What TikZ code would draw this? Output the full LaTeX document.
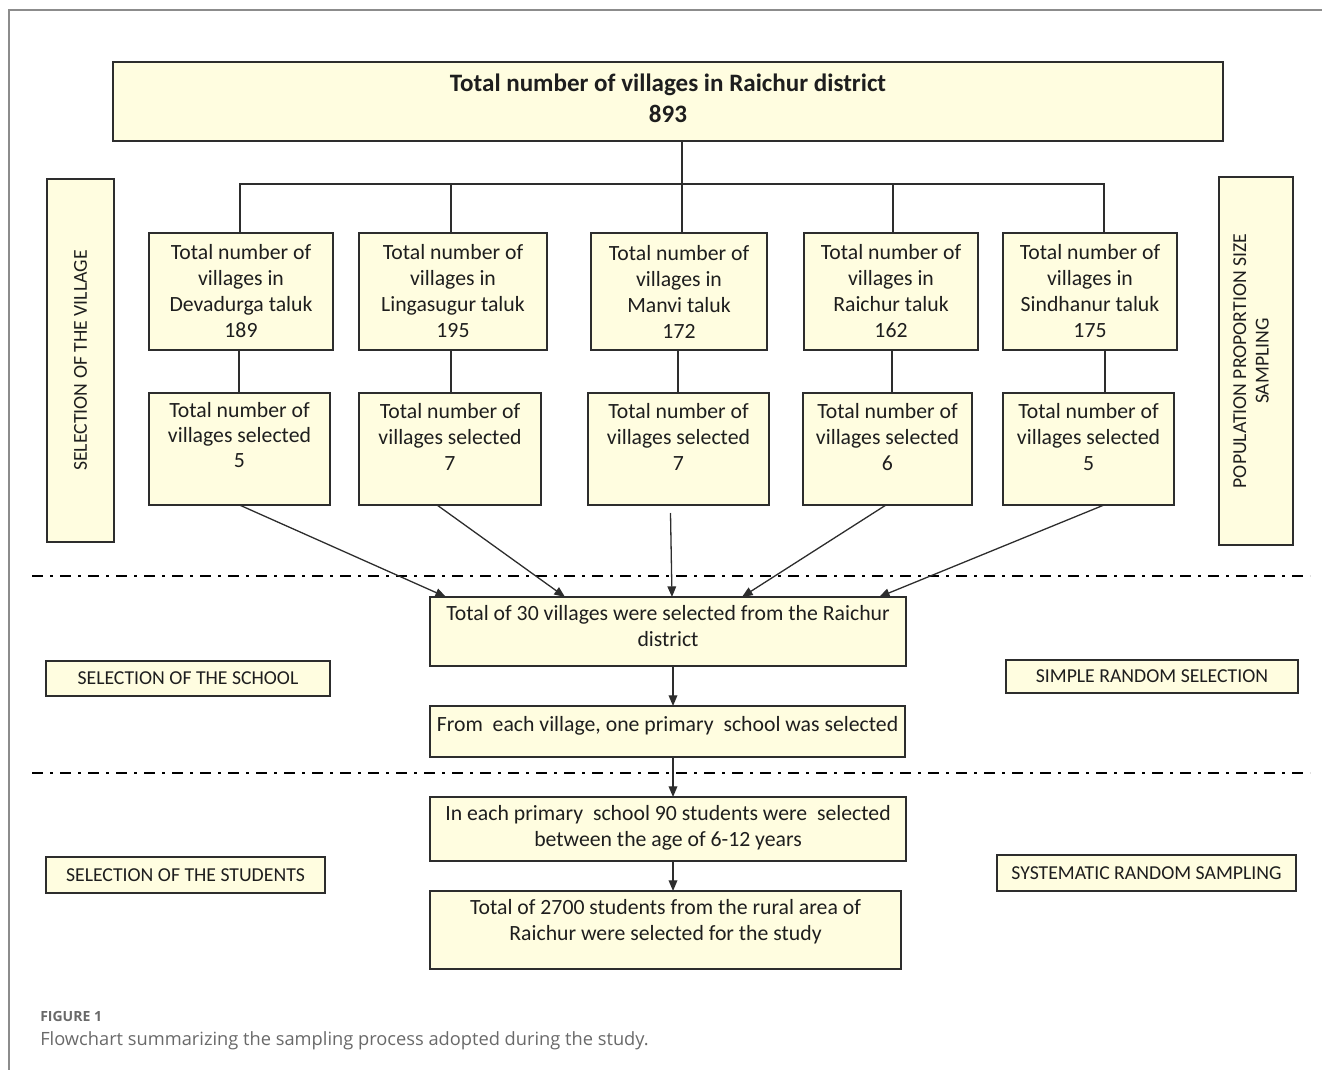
\documentclass[tikz,border=0pt]{standalone}
\usepackage{fontspec}
\setmainfont{Carlito}
\newfontfamily\capfont{Open Sans}
\usetikzlibrary{arrows.meta}
\def\px{0.75pt}
\definecolor{boxfill}{RGB}{255,253,224}
\definecolor{edgec}{RGB}{45,45,45}
\definecolor{framec}{RGB}{140,140,140}
\definecolor{capc}{RGB}{105,105,105}
\definecolor{txtc}{RGB}{30,30,30}
\begin{document}
\begin{tikzpicture}[x=0.75pt,y=-0.75pt,
  box/.style={draw=edgec, fill=boxfill, line width=1.6*\px, inner sep=0pt, outer sep=0pt},
  tx/.style={font=\fontsize{16.3}{19.5}\selectfont, align=center, inner sep=0pt, text=txtc},
  tb/.style={font=\fontsize{16.3}{18.5}\selectfont, align=center, inner sep=0pt, text=txtc},
  ttop/.style={font=\bfseries\fontsize{18.8}{23.2}\selectfont, align=center, inner sep=0pt, text=txtc},
  side/.style={font=\fontsize{14.8}{17}\selectfont, align=center, inner sep=0pt, text=txtc},
  conn/.style={draw=edgec, line width=1.3*\px},
  arr/.style={conn, -{Triangle[length=8pt,width=6.5pt]}},
  dd/.style={draw=black, line width=2.2*\px, dash pattern=on 11*\px off 7*\px on 3*\px off 7*\px}
]
\useasboundingbox (0,0) rectangle (1322,1070);
% frame
\draw[framec, line width=2*\px] (9,1070) -- (9,10) -- (1322,10);

% top box
\node[box, minimum width=1110*\px, minimum height=79*\px] (top) at (668,101.5) {};
\node[ttop] (topt) at ([yshift=3*\px]top.center) {Total number of villages in Raichur district\\893};

% row 1
\node[box, minimum width=184*\px, minimum height=117*\px] (r1a) at (241,291.5) {};
\node[box, minimum width=188*\px, minimum height=117*\px] (r1b) at (453,291.5) {};
\node[box, minimum width=176*\px, minimum height=117*\px] (r1c) at (679,291.5) {};
\node[box, minimum width=174*\px, minimum height=117*\px] (r1d) at (891,291.5) {};
\node[box, minimum width=174*\px, minimum height=117*\px] (r1e) at (1090,291.5) {};
\node[tx] (r1at) at (r1a.center) {Total number of\\villages in\\Devadurga taluk\\189};
\node[tx] (r1bt) at (r1b.center) {Total number of\\villages in\\Lingasugur taluk\\195};
\node[tx] (r1ct) at (r1c.center) {Total number of\\villages in\\Manvi taluk\\172};
\node[tx] (r1dt) at (r1d.center) {Total number of\\villages in\\Raichur taluk\\162};
\node[tx] (r1et) at (r1e.center) {Total number of\\villages in\\Sindhanur taluk\\175};

% row 2
\node[box, minimum width=181*\px, minimum height=112*\px] (r2a) at (239.5,449) {};
\node[box, minimum width=182*\px, minimum height=112*\px] (r2b) at (450,449) {};
\node[box, minimum width=181*\px, minimum height=112*\px] (r2c) at (678.5,449) {};
\node[box, minimum width=169*\px, minimum height=112*\px] (r2d) at (887.5,449) {};
\node[box, minimum width=171*\px, minimum height=112*\px] (r2e) at (1088.5,449) {};
\node[tb] (r2at) at ([yshift=14*\px]r2a.center) {Total number of\\villages selected\\5};
\node[tx] (r2bt) at ([yshift=12*\px]r2b.center) {Total number of\\villages selected\\7};
\node[tx] (r2ct) at ([yshift=12*\px]r2c.center) {Total number of\\villages selected\\7};
\node[tx] (r2dt) at ([yshift=12*\px]r2d.center) {Total number of\\villages selected\\6};
\node[tx] (r2et) at ([yshift=12*\px]r2e.center) {Total number of\\villages selected\\5};

% side boxes
\node[box, minimum width=67*\px, minimum height=363*\px] (sv) at (80.5,360.5) {};
\node[side, rotate=90] (svt) at (sv.center) {SELECTION OF THE VILLAGE};
\node[box, minimum width=74*\px, minimum height=368*\px] (sp) at (1256,361) {};
\node[side, rotate=90] (spt) at ([xshift=-5*\px]sp.center) {POPULATION PROPORTION SIZE\\SAMPLING};
\node[box, minimum width=284*\px, minimum height=35*\px] (ssch) at (188,678.5) {};
\node[side] (sscht) at (ssch.center) {SELECTION OF THE SCHOOL};
\node[box, minimum width=292*\px, minimum height=33*\px] (srs) at (1152,676.5) {};
\node[side] (srst) at (srs.center) {SIMPLE RANDOM SELECTION};
\node[box, minimum width=279*\px, minimum height=36*\px] (sstu) at (185.5,875) {};
\node[side] (sstut) at (sstu.center) {SELECTION OF THE STUDENTS};
\node[box, minimum width=299*\px, minimum height=36*\px] (ssys) at (1146.5,873) {};
\node[side] (ssyst) at (ssys.center) {SYSTEMATIC RANDOM SAMPLING};

% central column
\node[box, minimum width=476*\px, minimum height=69*\px] (c30) at (668,631.5) {};
\node[tx] (c30t) at ([yshift=5*\px]c30.center) {Total of 30 villages were selected from the Raichur\\district};
\node[box, minimum width=475*\px, minimum height=51*\px] (from) at (667.5,731.5) {};
\node[tx] (fromt) at ([yshift=6*\px]from.center) {From\ \ each village, one primary\ \ school was selected};
\node[box, minimum width=476*\px, minimum height=64*\px] (each) at (668,829) {};
\node[tx] (eacht) at ([yshift=1.5*\px]each.center) {In each primary\ \ school 90 students were\ \ selected\\between the age of 6-12 years};
\node[box, minimum width=471*\px, minimum height=78*\px] (tot) at (665.5,930) {};
\node[tx] (tott) at ([yshift=8.5*\px]tot.center) {Total of 2700 students from the rural area of\\Raichur were selected for the study};

% dash-dot separators
\draw[dd] (32,576) -- (1310,576);
\draw[dd] (32,773) -- (1310,773);

% tree connectors
\coordinate (ja) at (240,184);
\coordinate (jb) at (451,184);
\coordinate (jc) at (682,184);
\coordinate (jd) at (893,184);
\coordinate (je) at (1104,184);
\draw[conn] (top.south -| jc) -- (jc);
\draw[conn] (r1a.north -| ja) -- (ja) -- (je) -- (r1e.north -| je);
\draw[conn] (jb) -- (r1b.north -| jb);
\draw[conn] (jc) -- (r1c.north -| jc);
\draw[conn] (jd) -- (r1d.north -| jd);

% row1 to row2
\draw[conn] ([xshift=-2*\px]r1a.south) -- ([xshift=-0.5*\px]r2a.north);
\draw[conn] ([xshift=-2*\px]r1b.south) -- ([xshift=1*\px]r2b.north);
\draw[conn] ([xshift=-1*\px]r1c.south) -- ([xshift=-0.5*\px]r2c.north);
\draw[conn] ([xshift=1*\px]r1d.south) -- ([xshift=4.5*\px]r2d.north);
\draw[conn] ([xshift=15*\px]r1e.south) -- ([xshift=16.5*\px]r2e.north);

% row2 to c30
\draw[arr] (r2a.south) -- ([xshift=16*\px]c30.north west);
\draw[arr] ([xshift=-13*\px]r2b.south) -- ([xshift=135*\px]c30.north west);
\draw[arr] ([xshift=-8*\px,yshift=-8*\px]r2c.south) -- ([xshift=242*\px]c30.north west);
\draw[arr] ([xshift=-1.5*\px]r2d.south) -- ([xshift=312*\px]c30.north west);
\draw[arr] ([xshift=15.5*\px]r2e.south) -- ([xshift=449*\px]c30.north west);

% central arrows
\draw[arr] ([xshift=5*\px]c30.south) -- ([xshift=5.5*\px]from.north);
\draw[arr] ([xshift=5.5*\px]from.south) -- ([xshift=5*\px]each.north);
\draw[arr] ([xshift=5*\px]each.south) -- ([xshift=7.5*\px]tot.north);

% caption
\node[anchor=base west, inner sep=0pt, font=\capfont\bfseries\fontsize{10.5}{12}\selectfont, text=capc] (capa) at (40,1021) {FIGURE 1};
\node[anchor=base west, inner sep=0pt, font=\capfont\fontsize{13.7}{15}\selectfont, text=capc] (capb) at (40,1045) {Flowchart summarizing the sampling process adopted during the study.};
\end{tikzpicture}
\end{document}
